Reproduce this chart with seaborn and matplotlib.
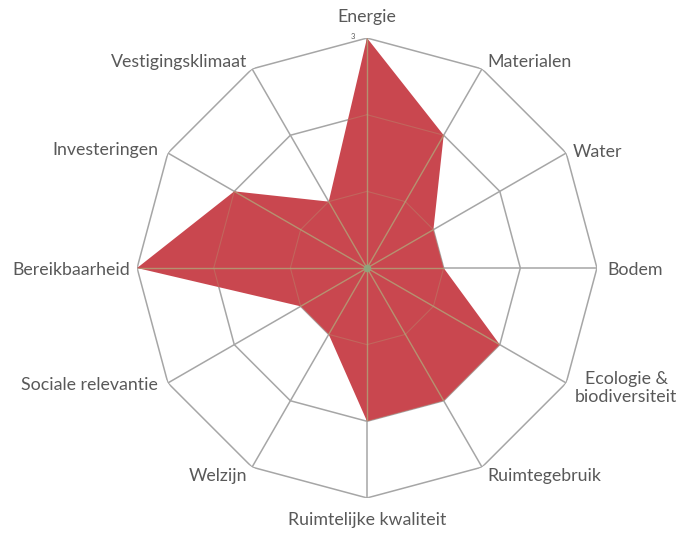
import numpy as np
import matplotlib
matplotlib.use('Agg')
import matplotlib.pyplot as plt
import seaborn as sns

# ── Data ──────────────────────────────────────────────────────────────────
categories = ['Energie', 'Materialen', 'Water', 'Bodem', 'Ecologie &\nbiodiversiteit',
              'Ruimtegebruik', 'Ruimtelijke kwaliteit', 'Welzijn', 'Sociale relevantie',
              'Bereikbaarheid', 'Investeringen', 'Vestigingsklimaat']
scores = [3, 2, 1, 1, 2, 2, 2, 1, 1, 3, 2, 1]
levels = [1, 2, 3]

# label offsets in pixels (dx, dy, ha)
label_pos = [(0, 21, 'center'), (5, 7, 'left'), (7, 1, 'left'), (10, -2, 'left'),
             (9, -5, 'left'), (5, -9, 'left'), (0, -22, 'center'), (-5, -9, 'right'),
             (-10, -2, 'right'), (-7, -2, 'right'), (-10, 3, 'right'), (-5, 7, 'right')]

sns.set_style('white')
plt.rcParams['font.family'] = ['Lato', 'DejaVu Sans']

grid_col = '#a6a6a6'
fill_col = '#c9474f'
inner_col = '#b29f76'

n = len(categories)
angles = np.linspace(0, 2 * np.pi, n, endpoint=False)
ang_c = np.append(angles, angles[0])
vals_c = np.append(scores, scores[0])

fig = plt.figure(figsize=(6.77, 5.36), dpi=100)
ax = fig.add_axes([0.2024, 0.071, 0.6795, 0.858], projection='polar')
ax.set_theta_offset(np.pi / 2)
ax.set_theta_direction(-1)
ax.set_ylim(0, 3)
ax.grid(False)
ax.set_xticks([])
ax.set_yticks([])
ax.spines['polar'].set_visible(False)

# polygon grid + spokes
for lv in levels:
    ax.plot(ang_c, [lv] * (n + 1), color=grid_col, lw=1.1, zorder=1)
for a in angles:
    ax.plot([a, a], [0, 3], color=grid_col, lw=1.1, zorder=1)

# filled area
poly = ax.fill(ang_c, vals_c, color=fill_col, alpha=1, zorder=2, lw=0)[0]

# grid seen through the fill
for lv in levels:
    ln, = ax.plot(ang_c, [lv] * (n + 1), color=inner_col, lw=0.8, alpha=0.35, zorder=3)
    ln.set_clip_path(poly)
for a in angles:
    ln, = ax.plot([a, a], [0, 3], color=inner_col, lw=1.0, alpha=0.85, zorder=3)
    ln.set_clip_path(poly)
ax.scatter([0], [0], s=30, color='#8fa47c', zorder=4, lw=0)

# category labels
for a, lab, (dx, dy, ha) in zip(angles, categories, label_pos):
    ax.annotate(lab, xy=(a, 3), xytext=(dx, dy), textcoords='offset pixels',
                ha=ha, va='center', fontsize=12.8, color='#595959',
                multialignment='center', linespacing=1.1, annotation_clip=False)

# axis value label
ax.annotate('3', xy=(0, 3), xytext=(-14, 2), textcoords='offset pixels',
            ha='center', va='center', fontsize=5.5, color='#595959',
            annotation_clip=False)

fig.savefig('out.png', dpi=100)
